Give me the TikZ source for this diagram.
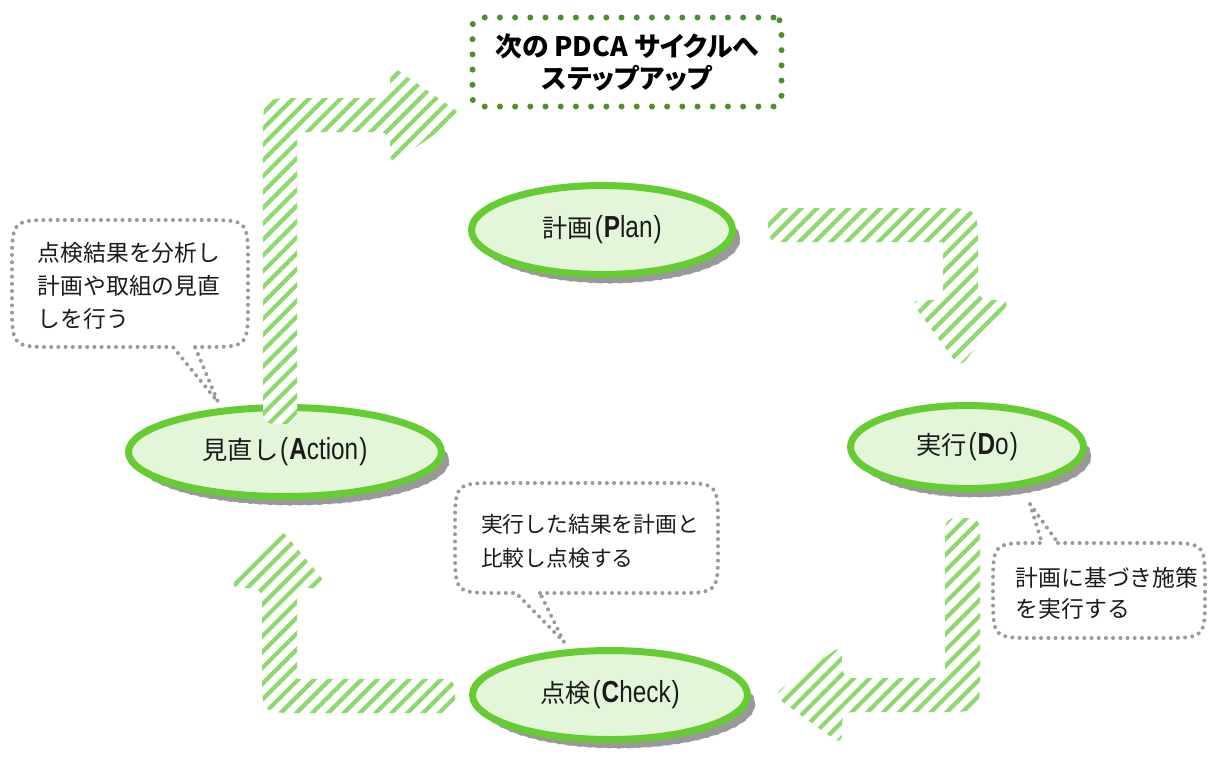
\documentclass[tikz,border=0pt]{standalone}
\usepackage{fontspec}
\setmainfont{Noto Sans CJK JP}
\newfontfamily\jpp[RawFeature=+palt]{Noto Sans CJK JP}
\newfontfamily\lat[FakeStretch=0.8]{Liberation Sans}
\usetikzlibrary{patterns.meta,shapes.geometric,shadows}
\definecolor{hatch}{HTML}{8DD96C}
\definecolor{egreen}{HTML}{66CC33}
\definecolor{efill}{HTML}{E3F6D9}
\definecolor{dgreen}{HTML}{4E8F2B}
\definecolor{dotgray}{HTML}{9A9A9A}
\definecolor{shadowgray}{HTML}{999999}
\definecolor{ink}{HTML}{1A1A1A}
\newcommand\stagelabel[3]{{\fontsize{12.6}{14}\selectfont #1}\hspace{1pt}{\lat\fontsize{15.2}{16}\selectfont(\hspace{0.5pt}\textbf{#2}#3\hspace{0.5pt})}}
\tikzset{
  hatcharrow/.style={preaction={fill=white}, pattern={Lines[angle=45,distance=5.6pt,line width=2.1pt]}, pattern color=hatch, rounded corners=5pt},
  stage/.style={ellipse, draw=egreen, line width=3.5pt, fill=efill, inner sep=0pt, text=ink,
    general shadow={fill=shadowgray, draw=white, densely dashed, line width=0.4pt, shadow xshift=4pt, shadow yshift=-4.5pt}},
  bubble/.style={draw=dotgray, line width=2pt, dash pattern=on 0pt off 3.6pt, line cap=round},
  notetext/.style={align=left, inner sep=0pt, text=ink},
  topbox/.style={draw=dgreen, line width=3pt, dash pattern=on 0pt off 7.6pt, line cap=round, rounded corners=4pt,
    minimum width=154.5pt, minimum height=44.5pt, align=center, inner sep=0pt}
}
\begin{document}
\begin{tikzpicture}[x=0.5pt,y=-0.5pt]
\useasboundingbox (0,0) rectangle (1209,756);

% Plan -> Do
\path[hatcharrow] (768,208) -- (928,208) .. controls (978,208) .. (978,258) -- (978,300) -- (1011,300) -- (960,368) -- (910,300) -- (943,300) -- (943,250) .. controls (943,242) .. (935,242) -- (768,242) -- cycle;
% Do -> Check
\path[hatcharrow] (945,518) -- (945,670) .. controls (945,678) .. (937,678) -- (842,678) -- (842,645) -- (773,695) -- (842,745) -- (842,712) -- (932,712) .. controls (980,712) .. (980,664) -- (980,518) -- cycle;
% Check -> Action
\path[hatcharrow] (455,679) -- (305,679) .. controls (297,679) .. (297,671) -- (297,588) -- (330,588) -- (280,528) -- (229,588) -- (262,588) -- (262,665) .. controls (262,713) .. (310,713) -- (455,713) -- cycle;

% stages
\node[stage, minimum width=130.5pt, minimum height=44.5pt] (plan) at (602,230) {\stagelabel{計画}{P}{lan}};
\node[stage, minimum width=116.5pt, minimum height=41.5pt] (do) at (967,447) {\stagelabel{実行}{D}{o}};
\node[stage, minimum width=137.5pt, minimum height=44.5pt] (check) at (610,695) {\stagelabel{点検}{C}{heck}};
\node[stage, minimum width=156.5pt, minimum height=44.5pt] (act) at (285,452) {\stagelabel{見直し}{A}{ction}};

% Action -> next cycle
\path[hatcharrow] (263,424) -- (263,144) .. controls (263,98) .. (309,98) -- (390,98) -- (390,65) -- (463,115) -- (390,165) -- (390,132) -- (305,132) .. controls (297,132) .. (297,140) -- (297,424) -- cycle;

% top box
\node[topbox, font=\jpp\fontsize{13.4}{16}\selectfont\bfseries] (next) at (627,62) {次の PDCA サイクルへ\\ ステップアップ};

% callouts
\coordinate (tipA) at (218,402);
\draw[bubble] (195,347) -- (204,347) .. controls (248,347) .. (248,303) -- (248,264) .. controls (248,220) .. (204,220) -- (56,220) .. controls (12,220) .. (12,264) -- (12,303) .. controls (12,347) .. (56,347) -- (173,347) -- (tipA) -- cycle;
\node[notetext, font=\fontsize{11.4}{16.5}\selectfont] (noteA) at (129,286) {点検結果を分析し\\計画や取組の見直\\しを行う};

\coordinate (tipC) at (564,642);
\draw[bubble] (540,593) -- (674,593) .. controls (718,593) .. (718,549) -- (718,527) .. controls (718,483) .. (674,483) -- (499,483) .. controls (455,483) .. (455,527) -- (455,549) .. controls (455,593) .. (499,593) -- (516,593) -- (tipC) -- cycle;
\node[notetext, font=\fontsize{10.9}{17}\selectfont] (noteC) at (590,541) {実行した結果を計画と\\比較し点検する};

\coordinate (tipD) at (1030,504);
\draw[bubble] (1058,543) -- (1162,543) .. controls (1205,543) .. (1205,586) -- (1205,595) .. controls (1205,638) .. (1162,638) -- (1036,638) .. controls (993,638) .. (993,595) -- (993,586) .. controls (993,543) .. (1036,543) -- (1042,543) -- (tipD) -- cycle;
\node[notetext, font=\fontsize{11.4}{15.5}\selectfont] (noteD) at (1107,593) {計画に基づき施策\\を実行する};
\end{tikzpicture}
\end{document}
